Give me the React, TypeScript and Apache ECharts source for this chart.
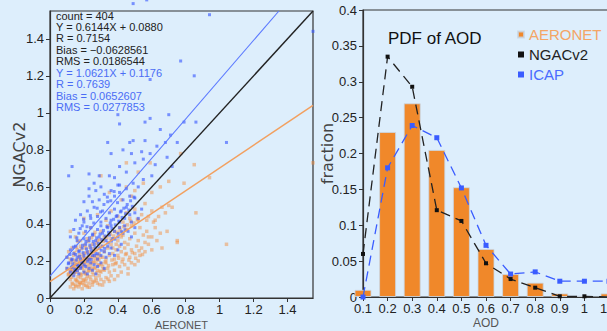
import React, { useEffect, useRef } from "react";
import * as echarts from "echarts";

const BG = "#ddeefc";
const FONT = "'Liberation Sans Narrow', 'Liberation Sans', Arial, sans-serif";
const FONT_REG = "'Liberation Sans', Arial, sans-serif";
const FONT_WIDE = "'DejaVu Sans', 'Liberation Sans', sans-serif";

// ---- Right panel: PDF of AOD ----
const aodBins = [0.1, 0.2, 0.3, 0.4, 0.5, 0.6, 0.7, 0.8, 0.9, 1.0, 1.1];
const aeronetPdf = [0.01, 0.23, 0.27, 0.205, 0.153, 0.067, 0.032, 0.02, 0.005, 0.002, 0.005];
const ngacPdf = [0.06, 0.335, 0.293, 0.121, 0.106, 0.047, 0.025, 0.013, 0.001, 0.001, 0];
const icapPdf = [0, 0.18, 0.239, 0.222, 0.152, 0.072, 0.032, 0.035, 0.022, 0.022, 0.022];

// ---- Left panel: scatter (AERONET x, model y) ----
const orangePts = [
  [0.12,0.06],[0.13,0.08],[0.14,0.05],[0.15,0.07],[0.16,0.09],[0.17,0.06],[0.18,0.08],[0.19,0.05],[0.2,0.07],[0.21,0.09],
  [0.22,0.06],[0.23,0.08],[0.24,0.1],[0.25,0.07],[0.26,0.09],[0.27,0.11],[0.28,0.08],[0.3,0.1],[0.31,0.07],[0.33,0.11],
  [0.35,0.09],[0.36,0.12],[0.38,0.1],[0.4,0.12],[0.15,0.1],[0.18,0.11],[0.2,0.1],[0.22,0.12],[0.12,0.1],[0.29,0.12],
  [0.11,0.13],[0.13,0.15],[0.14,0.13],[0.15,0.17],[0.16,0.14],[0.17,0.16],[0.18,0.13],[0.19,0.17],[0.2,0.15],[0.21,0.13],
  [0.22,0.18],[0.23,0.15],[0.24,0.17],[0.25,0.14],[0.26,0.16],[0.27,0.19],[0.28,0.15],[0.29,0.18],[0.3,0.14],[0.31,0.17],
  [0.32,0.15],[0.33,0.19],[0.34,0.16],[0.35,0.14],[0.37,0.18],[0.38,0.15],[0.39,0.19],[0.41,0.17],[0.42,0.14],[0.44,0.18],
  [0.46,0.16],[0.48,0.19],[0.5,0.18],[0.52,0.2],[0.1,0.16],[0.12,0.19],[0.25,0.19],[0.2,0.19],
  [0.1,0.22],[0.11,0.25],[0.12,0.21],[0.13,0.27],[0.14,0.23],[0.15,0.2],[0.16,0.26],[0.17,0.22],[0.18,0.28],[0.19,0.21],
  [0.2,0.24],[0.21,0.27],[0.22,0.21],[0.23,0.25],[0.24,0.22],[0.25,0.29],[0.26,0.23],[0.27,0.26],[0.28,0.21],[0.29,0.24],
  [0.3,0.28],[0.31,0.22],[0.32,0.25],[0.33,0.21],[0.34,0.27],[0.35,0.23],[0.36,0.29],[0.37,0.24],[0.38,0.21],[0.39,0.26],
  [0.4,0.23],[0.41,0.28],[0.42,0.25],[0.43,0.21],[0.44,0.27],[0.45,0.24],[0.46,0.29],[0.47,0.22],[0.48,0.26],[0.5,0.24],
  [0.51,0.28],[0.53,0.23],[0.54,0.27],[0.56,0.25],[0.58,0.29],[0.6,0.26],[0.66,0.27],[0.75,0.3],
  [0.12,0.36],[0.15,0.33],[0.18,0.31],[0.2,0.35],[0.22,0.32],[0.24,0.38],[0.26,0.34],[0.28,0.31],[0.3,0.36],[0.32,0.33],
  [0.34,0.39],[0.36,0.32],[0.38,0.36],[0.4,0.31],[0.41,0.38],[0.43,0.34],[0.45,0.37],[0.47,0.32],[0.48,0.39],[0.5,0.35],
  [0.52,0.31],[0.53,0.38],[0.55,0.34],[0.57,0.36],[0.6,0.33],[0.62,0.38],[0.65,0.35],[0.69,0.36],
  [0.2,0.43],[0.28,0.45],[0.33,0.42],[0.36,0.47],[0.4,0.44],[0.43,0.41],[0.45,0.46],[0.47,0.43],[0.5,0.48],[0.52,0.42],
  [0.54,0.45],[0.56,0.51],[0.58,0.44],[0.6,0.47],[0.62,0.42],[0.64,0.44],[0.66,0.49],[0.68,0.46],[0.7,0.5],[0.72,0.49],
  [0.86,0.46],[0.42,0.53],[0.48,0.55],
  [0.35,0.57],[0.45,0.6],[0.5,0.58],[0.55,0.62],[0.6,0.57],[0.65,0.6],[0.7,0.63],[0.79,0.62],[0.94,0.65],[0.3,0.66],
  [0.45,0.73],[0.59,0.73],[0.77,0.78],[0.85,0.72],[1.55,0.73],[0.52,0.68],
  [1.04,0.29],[0.75,0.31],
  [0.135,0.075],[0.155,0.095],[0.165,0.115],[0.175,0.085],[0.185,0.125],[0.195,0.095],[0.205,0.135],[0.215,0.105],[0.225,0.145],[0.235,0.115],
  [0.245,0.155],[0.255,0.125],[0.265,0.165],[0.275,0.135],[0.285,0.175],[0.295,0.145],[0.305,0.185],[0.315,0.155],[0.325,0.195],[0.345,0.175],
  [0.365,0.205],[0.385,0.185],[0.405,0.215],[0.425,0.195],[0.445,0.235],[0.465,0.205],[0.485,0.245],[0.505,0.215],[0.525,0.255],[0.545,0.235],
  [0.145,0.185],[0.165,0.205],[0.175,0.235],[0.195,0.225],[0.215,0.245],[0.235,0.275],[0.255,0.265],[0.275,0.295],[0.295,0.315],[0.315,0.305],
  [0.335,0.325],[0.355,0.345],[0.375,0.335],[0.395,0.355],[0.415,0.365],[0.435,0.385],[0.455,0.395],[0.475,0.415],[0.495,0.405],[0.515,0.425],
  [0.125,0.155],[0.135,0.205],[0.145,0.245],[0.155,0.275],[0.165,0.305],[0.185,0.265],[0.205,0.285],[0.225,0.305],[0.245,0.325],[0.265,0.355],
  [0.152,0.062],[0.172,0.072],[0.192,0.082],[0.212,0.068],[0.232,0.058],[0.252,0.085],[0.272,0.095],[0.292,0.072],[0.318,0.088],[0.342,0.102],
  [0.108,0.125],[0.118,0.145],[0.128,0.112],[0.138,0.168],[0.148,0.142],[0.158,0.158],[0.168,0.178],[0.178,0.192],[0.188,0.162],[0.198,0.182],
  [0.208,0.198],[0.218,0.165],[0.228,0.205],[0.238,0.188],[0.248,0.218],[0.258,0.198],[0.268,0.212],[0.278,0.228],[0.288,0.205],[0.298,0.222],
  [0.56,0.3],[0.58,0.33],[0.63,0.31],[0.61,0.41],[0.57,0.42],[0.44,0.3],[0.42,0.33],[0.39,0.29],[0.37,0.27],[0.46,0.13]
];

const bluePts = [
  [0.12,0.14],[0.13,0.17],[0.14,0.12],[0.15,0.15],[0.16,0.18],[0.17,0.13],[0.18,0.16],[0.19,0.19],[0.2,0.14],[0.21,0.17],
  [0.22,0.13],[0.23,0.16],[0.24,0.19],[0.25,0.15],[0.26,0.18],[0.28,0.17],[0.3,0.19],[0.32,0.16],[0.11,0.19],[0.27,0.13],[0.1,0.16],
  [0.1,0.22],[0.12,0.26],[0.13,0.21],[0.14,0.24],[0.15,0.28],[0.16,0.22],[0.17,0.25],[0.18,0.21],[0.19,0.27],[0.2,0.23],
  [0.21,0.29],[0.22,0.25],[0.23,0.21],[0.24,0.27],[0.25,0.23],[0.26,0.29],[0.27,0.24],[0.28,0.21],[0.29,0.27],[0.3,0.23],
  [0.31,0.28],[0.32,0.25],[0.33,0.22],[0.34,0.28],[0.35,0.24],[0.36,0.27],[0.38,0.23],[0.4,0.26],[0.42,0.29],
  [0.12,0.33],[0.14,0.37],[0.16,0.31],[0.17,0.35],[0.19,0.39],[0.2,0.32],[0.21,0.36],[0.23,0.31],[0.24,0.38],[0.25,0.34],
  [0.27,0.31],[0.28,0.37],[0.29,0.33],[0.3,0.39],[0.31,0.35],[0.33,0.31],[0.34,0.38],[0.35,0.34],[0.36,0.39],[0.37,0.32],
  [0.38,0.36],[0.4,0.33],[0.41,0.38],[0.43,0.35],[0.44,0.39],[0.46,0.36],[0.48,0.33],[0.5,0.38],
  [0.15,0.42],[0.18,0.45],[0.2,0.41],[0.22,0.47],[0.24,0.43],[0.26,0.49],[0.28,0.44],[0.3,0.41],[0.31,0.47],[0.33,0.43],
  [0.35,0.46],[0.36,0.42],[0.38,0.48],[0.39,0.44],[0.41,0.41],[0.42,0.47],[0.44,0.43],[0.45,0.49],[0.47,0.45],[0.48,0.41],
  [0.5,0.46],[0.52,0.43],[0.54,0.48],
  [0.2,0.52],[0.23,0.55],[0.25,0.52],[0.27,0.58],[0.29,0.53],[0.3,0.6],[0.32,0.56],[0.34,0.52],[0.36,0.58],[0.38,0.55],
  [0.4,0.61],[0.41,0.57],[0.43,0.53],[0.45,0.59],[0.47,0.55],[0.49,0.62],[0.5,0.54],[0.52,0.6],[0.23,0.59],[0.26,0.62],
  [0.11,0.66],[0.13,0.71],[0.23,0.67],[0.29,0.66],[0.35,0.66],[0.41,0.61],[0.38,0.65],[0.45,0.68],[0.55,0.64],[0.6,0.66],
  [0.34,0.84],[0.36,0.78],[0.41,0.71],[0.43,0.8],[0.47,0.84],[0.48,0.78],[0.49,0.85],[0.54,0.79],[0.55,0.75],[0.56,0.85],
  [0.59,0.78],[0.63,0.82],[0.65,0.91],[0.68,0.84],[0.69,0.76],[0.71,0.88],[0.72,0.71],[0.75,0.84],[0.4,0.99],[0.41,0.94],
  [0.56,0.95],[0.59,0.97],[0.7,0.99],[0.79,0.95],[0.86,0.95],[1.04,0.84],[0.62,0.72],[0.5,0.73],
  [0.59,1.18],[0.85,1.2],[0.77,1.28],[0.94,1.53],[1.55,1.44],[0.49,1.59],[0.57,1.61],
  [0.125,0.165],[0.135,0.185],[0.145,0.155],[0.155,0.205],[0.165,0.175],[0.175,0.225],[0.185,0.195],[0.195,0.245],[0.205,0.215],[0.215,0.265],
  [0.225,0.235],[0.235,0.285],[0.245,0.255],[0.255,0.305],[0.265,0.275],[0.275,0.325],[0.285,0.295],[0.295,0.345],[0.305,0.315],[0.315,0.365],
  [0.325,0.335],[0.335,0.385],[0.345,0.355],[0.355,0.405],[0.365,0.375],[0.375,0.425],[0.385,0.395],[0.395,0.445],[0.405,0.415],[0.415,0.465],
  [0.425,0.435],[0.435,0.485],[0.445,0.455],[0.455,0.505],[0.465,0.475],[0.475,0.525],[0.485,0.495],[0.495,0.545],
  [0.142,0.138],[0.162,0.148],[0.182,0.168],[0.202,0.178],[0.222,0.198],[0.242,0.208],[0.262,0.228],[0.282,0.238],[0.302,0.258],[0.322,0.268],
  [0.342,0.298],[0.362,0.308],[0.382,0.318],[0.402,0.348],[0.422,0.358],[0.442,0.368],
  [0.118,0.235],[0.138,0.275],[0.158,0.325],[0.178,0.375],[0.198,0.425],[0.218,0.385],[0.238,0.445],[0.258,0.405],[0.278,0.485],[0.298,0.465],
  [0.318,0.505],[0.338,0.545],[0.358,0.525],[0.378,0.575],[0.398,0.515],
  [0.108,0.185],[0.128,0.205],[0.152,0.235],[0.172,0.255],[0.192,0.285],[0.212,0.305],[0.232,0.325],[0.252,0.345]
];

const oneToOneLine = [[0, 0], [1.55, 1.55]];
const orangeFitLine = [[0, 0.088], [1.55, 1.0403]];
const blueFitLine = [[0, 0.1176], [1.349, 1.55]];

const statsBlack = ["count = 404", "Y = 0.6144X + 0.0880", "R = 0.7154", "Bias = \u22120.0628561", "RMS = 0.0186544"];
const statsBlue = ["Y = 1.0621X + 0.1176", "R = 0.7639", "Bias = 0.0652607", "RMS = 0.0277853"];

const fmt = (v: number) => String(Math.round(v * 100) / 100);

const axisCommon = {
  type: "value",
  nameMoveOverlap: false,
  axisLine: { show: true, onZero: false, lineStyle: { color: "#333", width: 1.2 } },
  axisTick: { show: true, inside: false, length: 4, lineStyle: { color: "#333" } },
  splitLine: { show: false },
};

const LABEL = { color: "#222", fontSize: 13, fontFamily: FONT };

export default function App() {
  const ref = useRef<HTMLDivElement>(null);
  useEffect(() => {
    if (!ref.current) return;
    const chart = echarts.init(ref.current, null, { renderer: "svg" });
    const option: any = {
      animation: false,
      backgroundColor: BG,
      textStyle: { fontFamily: FONT },
      title: {
        text: "PDF of AOD",
        left: 383,
        top: 25,
        textStyle: { fontFamily: FONT_REG, fontSize: 17, fontWeight: "normal", color: "#111" },
      },
      legend: {
        orient: "vertical",
        left: 512,
        top: 22,
        icon: "rect",
        itemWidth: 6,
        itemHeight: 6,
        itemGap: 5,
        textStyle: { fontFamily: FONT_REG, fontSize: 15 },
        data: [
          { name: "AERONET", textStyle: { color: "#f4a566" } },
          { name: "NGACv2", textStyle: { color: "#222" } },
          { name: "ICAP", textStyle: { color: "#4a6bff" } },
        ],
      },
      grid: [
        { left: 50, top: 11, width: 263, height: 287, outerBoundsMode: "none", containLabel: false, show: true, borderColor: "#333", borderWidth: 1.2, backgroundColor: "transparent" },
        { left: 363, top: 10, width: 246, height: 287, outerBoundsMode: "none", containLabel: false, show: true, borderColor: "#333", borderWidth: 1.2, backgroundColor: "transparent" },
      ],
      xAxis: [
        {
          ...axisCommon, gridIndex: 0, min: 0, max: 1.55, interval: 0.2,
          name: "AERONET", nameLocation: "middle", nameGap: 21,
          nameTextStyle: { color: "#555", fontSize: 11, fontFamily: FONT_REG },
          axisLabel: { ...LABEL, showMaxLabel: false, margin: 5, formatter: fmt },
        },
        {
          ...axisCommon, gridIndex: 1, min: 0.1, max: 1.1, interval: 0.1,
          name: "AOD", nameLocation: "middle", nameGap: 20,
          nameTextStyle: { color: "#555", fontSize: 12, fontFamily: FONT_REG },
          axisLabel: { ...LABEL, margin: 5, formatter: fmt },
        },
      ],
      yAxis: [
        {
          ...axisCommon, gridIndex: 0, min: 0, max: 1.55, interval: 0.2,
          name: "NGACv2", nameLocation: "middle", nameGap: 23,
          nameTextStyle: { color: "#444", fontSize: 16, fontFamily: FONT_WIDE },
          axisLabel: { ...LABEL, showMaxLabel: false, margin: 6, formatter: fmt },
        },
        {
          ...axisCommon, gridIndex: 1, min: 0, max: 0.4, interval: 0.05,
          name: "fraction", nameLocation: "middle", nameGap: 28,
          nameTextStyle: { color: "#444", fontSize: 16, fontFamily: FONT_WIDE },
          axisLabel: { ...LABEL, margin: 6, formatter: fmt },
        },
      ],
      series: [
        {
          name: "sAERONET", type: "scatter", xAxisIndex: 0, yAxisIndex: 0, clip: false,
          symbol: "rect", symbolSize: 3.5,
          itemStyle: { color: "rgba(242,140,60,0.6)" },
          data: orangePts,
        },
        {
          name: "sICAP", type: "scatter", xAxisIndex: 0, yAxisIndex: 0, clip: false,
          symbol: "rect", symbolSize: 3,
          itemStyle: { color: "rgba(60,90,255,0.8)" },
          data: bluePts,
        },
        {
          name: "fit1", type: "line", xAxisIndex: 0, yAxisIndex: 0, symbol: "none",
          lineStyle: { color: "#f2a060", width: 1.5 }, data: orangeFitLine,
        },
        {
          name: "fit2", type: "line", xAxisIndex: 0, yAxisIndex: 0, symbol: "none",
          lineStyle: { color: "#5a78ff", width: 1.1 }, data: blueFitLine,
        },
        {
          name: "oneone", type: "line", xAxisIndex: 0, yAxisIndex: 0, symbol: "none",
          lineStyle: { color: "#222", width: 1.4 }, data: oneToOneLine,
        },
        {
          name: "AERONET", type: "bar", xAxisIndex: 1, yAxisIndex: 1, barWidth: 17,
          itemStyle: { color: "#f0882a", borderColor: "rgba(200,215,230,0.8)", borderWidth: 1 },
          data: aodBins.map((x, i) => [x, aeronetPdf[i]]),
        },
        {
          name: "NGACv2", type: "line", xAxisIndex: 1, yAxisIndex: 1,
          symbol: "rect", symbolSize: 4, itemStyle: { color: "#111" },
          lineStyle: { color: "#222", width: 1.3, type: [10, 6] },
          data: aodBins.map((x, i) => [x, ngacPdf[i]]),
        },
        {
          name: "ICAP", type: "line", xAxisIndex: 1, yAxisIndex: 1,
          symbol: "rect", symbolSize: 5, itemStyle: { color: "#3a5cff" },
          lineStyle: { color: "#3a5cff", width: 1.3, type: [10, 6] },
          data: aodBins.map((x, i) => [x, icapPdf[i]]),
        },
      ],
      graphic: [
        {
          type: "text", left: 56, top: 10,
          style: { text: statsBlack.join("\n"), font: `11px ${FONT_REG}`, lineHeight: 11.3, fill: "#222" },
        },
        {
          type: "text", left: 56, top: 67.5,
          style: { text: statsBlue.join("\n"), font: `11px ${FONT_REG}`, lineHeight: 11.3, fill: "#4a6cf5" },
        },
      ],
    };
    chart.setOption(option);
    return () => chart.dispose();
  }, []);
  return (
    <div
      ref={ref}
      style={{ position: "absolute", left: 0, top: 0, width: 607, height: 331, background: BG }}
    />
  );
}
